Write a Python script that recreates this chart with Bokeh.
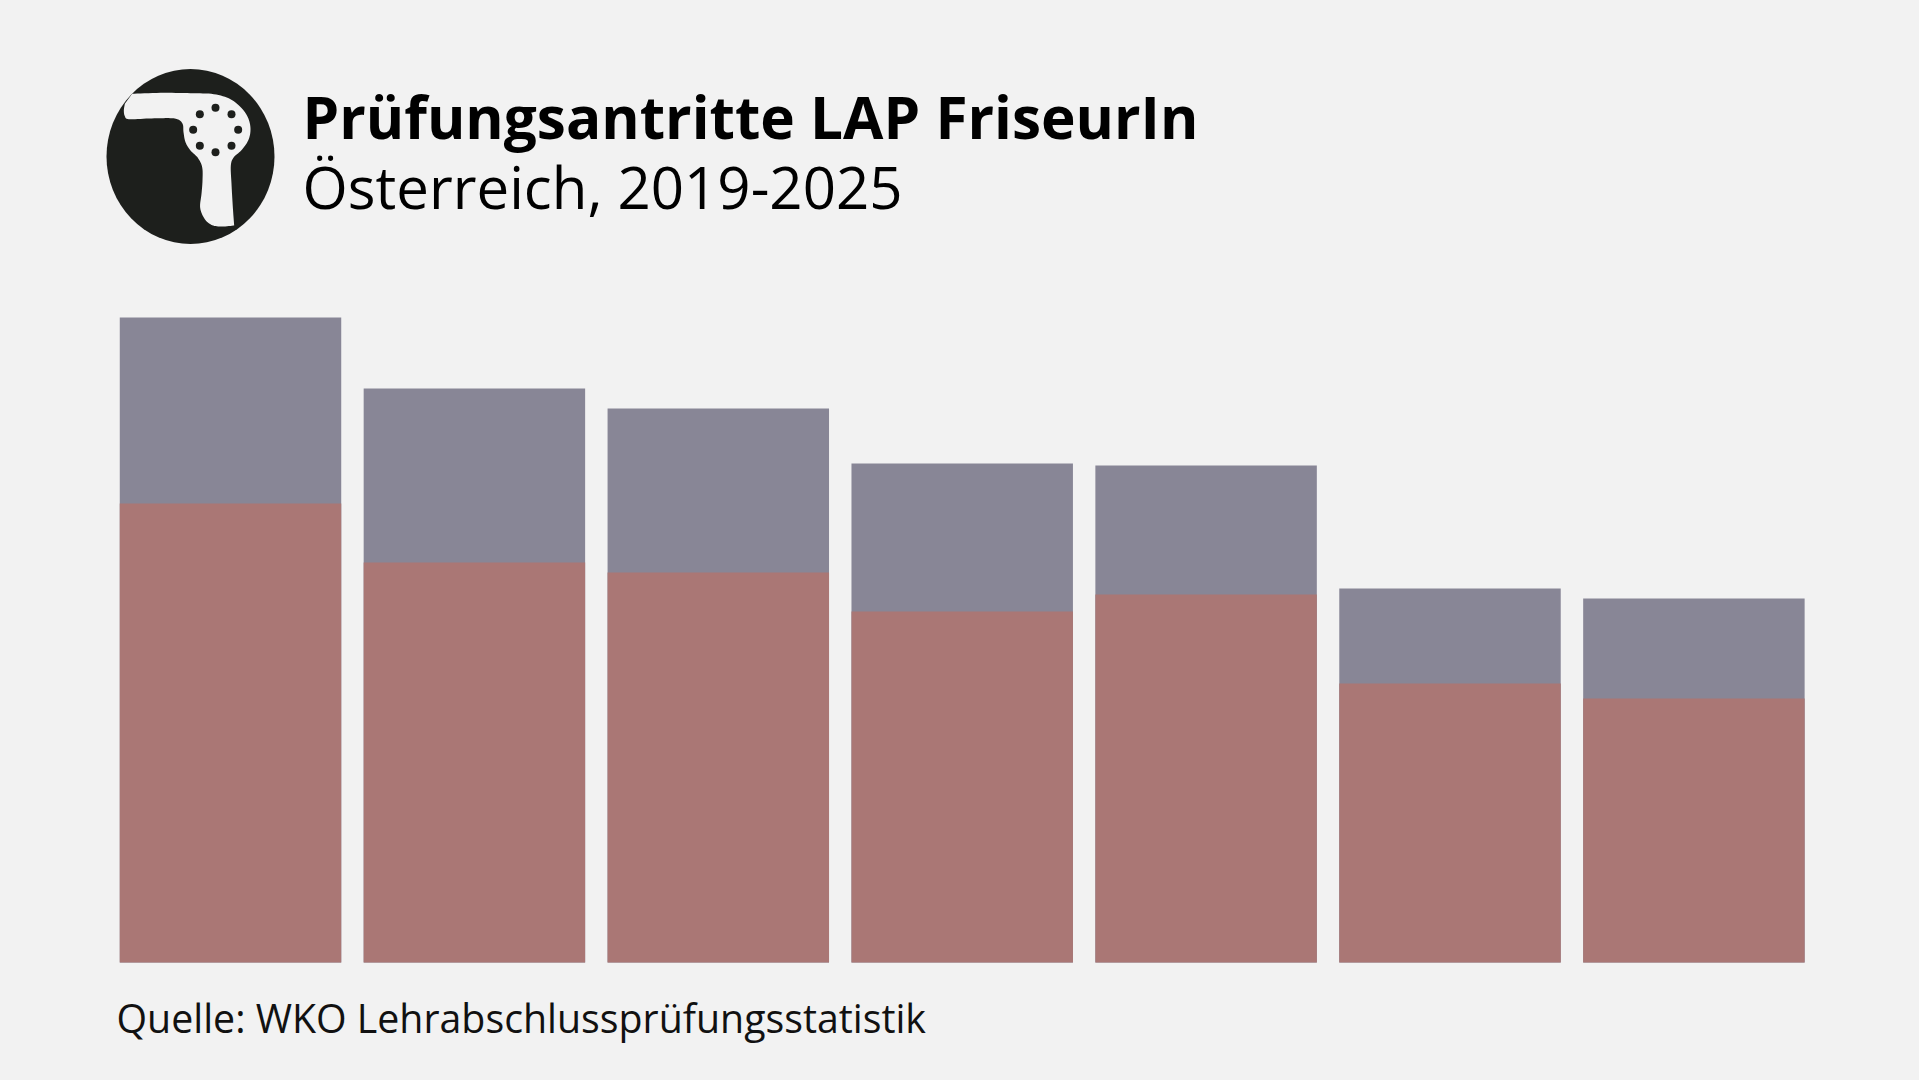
import numpy as np
from bokeh.embed import file_html
from bokeh.resources import INLINE
from bokeh.plotting import figure
from bokeh.models import Range1d
from bokeh.core.properties import value

# Data (height units of the chart)
years = [2019, 2020, 2021, 2022, 2023, 2024, 2025]
lower = [459, 400, 390, 351, 368, 279, 264]
total = [645, 574, 554, 499, 497, 374, 364]

TITLE = "Prüfungsantritte LAP FriseurIn"
SUBTITLE = "Österreich, 2019-2025"
SOURCE = "Quelle: WKO Lehrabschlussprüfungsstatistik"

BG = "#f2f2f2"
RED = "#aa7775"
GREY = "#888696"
DARK = "#1d1f1c"

W, H = 1903, 1064
# main ranges: page pixels, used for title block and icon
p = figure(width=W, height=H, output_backend="svg", toolbar_location=None,
           x_range=Range1d(0, W), y_range=Range1d(H, 0),
           min_border=0, min_border_left=0, min_border_right=0,
           min_border_top=0, min_border_bottom=0,
           background_fill_color=BG, border_fill_color=BG, outline_line_color=None)
p.xaxis.visible = False
p.yaxis.visible = False
p.grid.visible = False

# chart scales
STEP = 243.9
X0 = 230.0      # page x of first year
BASE = 962.0    # page y of zero
p.extra_x_ranges["yr"] = Range1d(years[0] - X0 / STEP, years[0] + (W - X0) / STEP)
p.extra_y_ranges["val"] = Range1d(BASE - H, BASE)

BAR_W = 0.908
# grey runs behind red so that no seam shows between the two parts
p.vbar(x=years, bottom=0, top=total, width=BAR_W, fill_color=GREY, line_color=None,
       x_range_name="yr", y_range_name="val")
p.vbar(x=years, bottom=0, top=lower, width=BAR_W, fill_color=RED, line_color=None,
       x_range_name="yr", y_range_name="val")

# icon (zoom-crop coordinates mapped to page pixels)
def ix(v): return 90 + np.asarray(v, float) / 3
def iy(v): return 50 + np.asarray(v, float) / 3

def smooth(pts, n=8):
    """Catmull-Rom curve through an icon outline's points."""
    P = np.array([pts[0]] + list(pts) + [pts[-1]], float)
    out = []
    for i in range(1, len(P) - 2):
        for t in np.linspace(0, 1, n, endpoint=False):
            a, b, c, d = P[i - 1], P[i], P[i + 1], P[i + 2]
            out.append(0.5 * (2 * b + (c - a) * t + (2 * a - 5 * b + 4 * c - d) * t**2 + (3 * b - a - 3 * c + d) * t**3))
    out.append(P[-2])
    return np.array(out)

p.ellipse(x=[ix(300)], y=[iy(318)], width=168, height=175, fill_color=DARK, line_color=None)
outer = [(125,130),(210,127),(300,128),(370,131),(420,146),(455,175),(474,205),(480,238),(473,270),
         (452,300),(430,320),(421,345),(423,400),(427,470),(431,525)]
inner = [(431,525),(395,528),(365,524),(343,506),(329,472),(333,430),(336,390),(335,350),(322,322),
         (300,300),(285,275),(279,245),(277,222),(265,208),(240,203),(175,204),(115,206),(103,197),
         (100,180),(103,160)]
shape = np.vstack([smooth(outer), smooth(inner)])
p.patch(x=ix(shape[:, 0]), y=iy(shape[:, 1]), fill_color=BG, line_color=None)
dx = [375, 423, 443, 423, 375, 328, 308, 328]
dy = [172, 191, 238, 286, 305, 286, 238, 191]
p.ellipse(x=ix(dx), y=iy(dy), width=8, height=8, fill_color=DARK, line_color=None)

# texts
FONT = value("Open Sans")
p.text(x=[302], y=[139 - 23.4], text=[TITLE], text_font=FONT, text_font_style="bold", text_font_size="58.5px",
       text_color="#000000", text_baseline="alphabetic")
p.text(x=[302], y=[209 - 23.4], text=[SUBTITLE], text_font=FONT, text_font_size="58.2px",
       text_color="#000000", text_baseline="alphabetic")
p.text(x=[116], y=[1033 - 15.7], text=[SOURCE], text_font=FONT, text_font_size="39.3px",
       text_color="#111111", text_baseline="alphabetic")

html = file_html(p, INLINE)
html = html.replace("</head>", "<style>html,body{background:#f2f2f2;overflow:hidden}</style></head>", 1)
open("out.html", "w").write(html)
